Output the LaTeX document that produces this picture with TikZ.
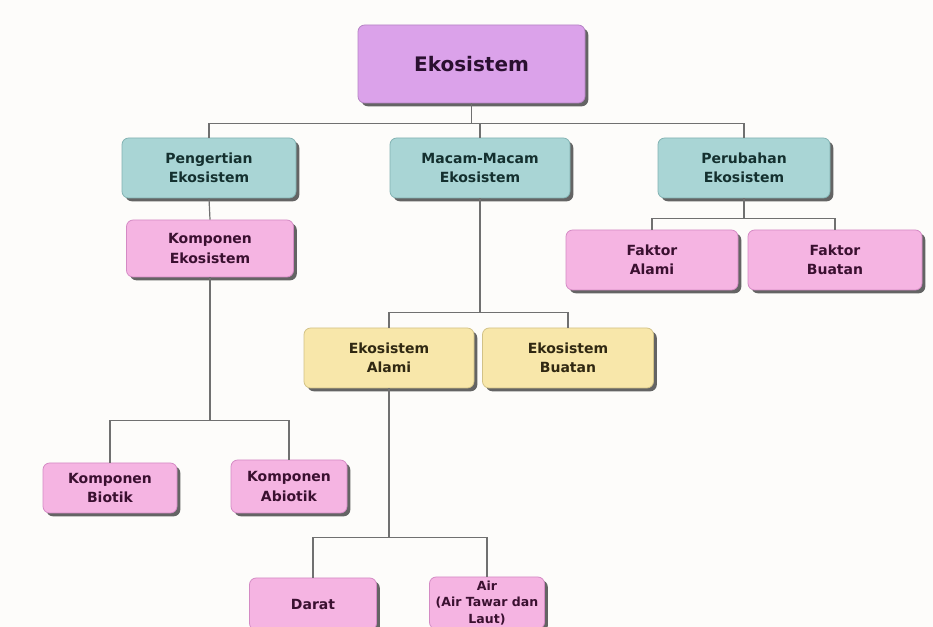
\documentclass[tikz,border=0pt]{standalone}
\usepackage{fontspec}
\setsansfont{DejaVu Sans}
\usetikzlibrary{shadows}
\definecolor{bgc}{HTML}{FDFCFA}
\definecolor{lavf}{HTML}{DBA2EA}
\definecolor{lavd}{HTML}{B583C4}
\definecolor{lavt}{HTML}{2A1030}
\definecolor{tealf}{HTML}{A9D5D5}
\definecolor{teald}{HTML}{82B2B2}
\definecolor{tealt}{HTML}{14302F}
\definecolor{pinkf}{HTML}{F5B4E2}
\definecolor{pinkd}{HTML}{D48AC4}
\definecolor{pinkt}{HTML}{3A1030}
\definecolor{yelf}{HTML}{F8E7AA}
\definecolor{yeld}{HTML}{D2C286}
\definecolor{yelt}{HTML}{302812}
\definecolor{shadowc}{HTML}{4A4A4A}
\definecolor{linec}{HTML}{707070}
\begin{document}
\begin{tikzpicture}[x=0.75pt,y=-0.75pt,
  base/.style={rounded corners=5pt, line width=0.6pt, align=center,
    font=\sffamily\bfseries\fontsize{10.5}{14.5}\selectfont, inner sep=2pt,
    drop shadow={shadow xshift=2.5pt,shadow yshift=-2.5pt,fill=shadowc,opacity=0.85}},
  lav/.style={base, fill=lavf, draw=lavd, text=lavt},
  tealbox/.style={base, fill=tealf, draw=teald, text=tealt},
  pinkbox/.style={base, fill=pinkf, draw=pinkd, text=pinkt},
  yelbox/.style={base, fill=yelf, draw=yeld, text=yelt},
  sz/.style 2 args={minimum width=#1*0.75pt, minimum height=#2*0.75pt},
  conn/.style={draw=linec, line width=0.9pt}
]
\useasboundingbox (0,0) rectangle (933,627);
\fill[bgc] (0,0) rectangle (933,627);
\clip (0,0) rectangle (933,627);

\node[lav, sz={227}{78}, font=\sffamily\bfseries\fontsize{15}{18}\selectfont] (eko) at (471.5,64) {Ekosistem};
\node[tealbox, sz={174}{60}] (peng) at (209,168) {Pengertian\\Ekosistem};
\node[tealbox, sz={180}{60}] (mac) at (480,168) {Macam-Macam\\Ekosistem};
\node[tealbox, sz={172}{60}] (per) at (744,168) {Perubahan\\Ekosistem};
\node[pinkbox, sz={167}{57}] (kek) at (210,248.5) {Komponen\\Ekosistem};
\node[pinkbox, sz={172}{60}] (fa) at (652,260) {Faktor\\Alami};
\node[pinkbox, sz={174}{60}] (fb) at (835,260) {Faktor\\Buatan};
\node[yelbox, sz={170}{60}] (ea) at (389,358) {Ekosistem\\Alami};
\node[yelbox, sz={171}{60}] (eb) at (568,358) {Ekosistem\\Buatan};
\node[pinkbox, sz={134}{50}] (kb) at (110,488) {Komponen\\Biotik};
\node[pinkbox, sz={116}{53}] (ka) at (289,486.5) {Komponen\\Abiotik};
\node[pinkbox, sz={127}{52}] (da) at (313,604) {Darat};
\node[pinkbox, sz={115}{52}, font=\sffamily\bfseries\fontsize{9.4}{12.6}\selectfont] (air) at (487,603) {Air\\(Air Tawar dan\\Laut)};

\draw[conn] (eko.south) -- ++(0,20) coordinate (j1);
\draw[conn] (j1) -| (peng.north);
\draw[conn] (j1) -| (mac.north);
\draw[conn] (j1) -| (per.north);
\draw[conn] (peng.south) -- (kek.north);
\draw[conn] (kek.south) -- ++(0,143) coordinate (j2);
\draw[conn] (j2) -| (kb.north);
\draw[conn] (j2) -| (ka.north);
\draw[conn] (mac.south) -- ++(0,114) coordinate (j3);
\draw[conn] (j3) -| (ea.north);
\draw[conn] (j3) -| (eb.north);
\draw[conn] (per.south) -- ++(0,20) coordinate (j4);
\draw[conn] (j4) -| (fa.north);
\draw[conn] (j4) -| (fb.north);
\draw[conn] (ea.south) -- ++(0,149) coordinate (j5);
\draw[conn] (j5) -| (da.north);
\draw[conn] (j5) -| (air.north);
\end{tikzpicture}
\end{document}
